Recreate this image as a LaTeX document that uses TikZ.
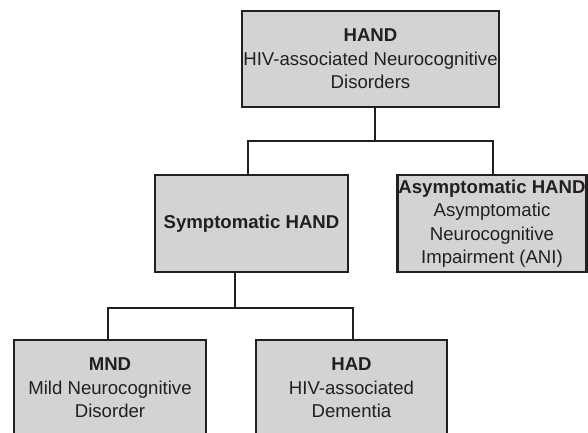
\documentclass[tikz,border=0pt]{standalone}
\usepackage{fontspec}
\setmainfont{Liberation Sans}
\definecolor{boxfill}{RGB}{211,211,212}
\definecolor{ink}{RGB}{35,31,32}
\begin{document}
\begin{tikzpicture}[x=1pt,y=-1pt,
  catbox/.style={draw=ink,fill=boxfill,line width=2.4pt,rectangle,inner sep=0pt,
    align=center,text=ink,font=\fontsize{18.6}{23.5}\selectfont},
  link/.style={draw=ink,line width=2pt}]
\useasboundingbox (0,0) rectangle (588,432);
\clip (0,0) rectangle (588,432);
\node[catbox,minimum width=257pt,minimum height=96pt] (hand) at (370.5,59)
  {\textbf{HAND}\\HIV-associated Neurocognitive\\Disorders};
\node[catbox,minimum width=193pt,minimum height=97pt] (sym) at (251.5,223.5)
  {\textbf{Symptomatic HAND}};
\node[catbox,minimum width=189pt,minimum height=97pt] (asym) at (492,223.5)
  {\textbf{Asymptomatic HAND}\\Asymptomatic\\Neurocognitive\\Impairment (ANI)};
\node[catbox,minimum width=192pt,minimum height=96pt] (mnd) at (110,388)
  {\textbf{MND}\\Mild Neurocognitive\\Disorder};
\node[catbox,minimum width=191pt,minimum height=96pt] (had) at (351.5,388)
  {\textbf{HAD}\\HIV-associated\\Dementia};
\draw[link] ([xshift=4.5pt]hand.south) -- ++(0,33) coordinate (j1);
\draw[link] ([xshift=-3.5pt]sym.north) |- (j1) -| ([xshift=1pt]asym.north);
\draw[link] ([xshift=-16.5pt]sym.south) -- ++(0,35) coordinate (j2);
\draw[link] ([xshift=-2pt]mnd.north) |- (j2) -| ([xshift=1.5pt]had.north);
\end{tikzpicture}
\end{document}
